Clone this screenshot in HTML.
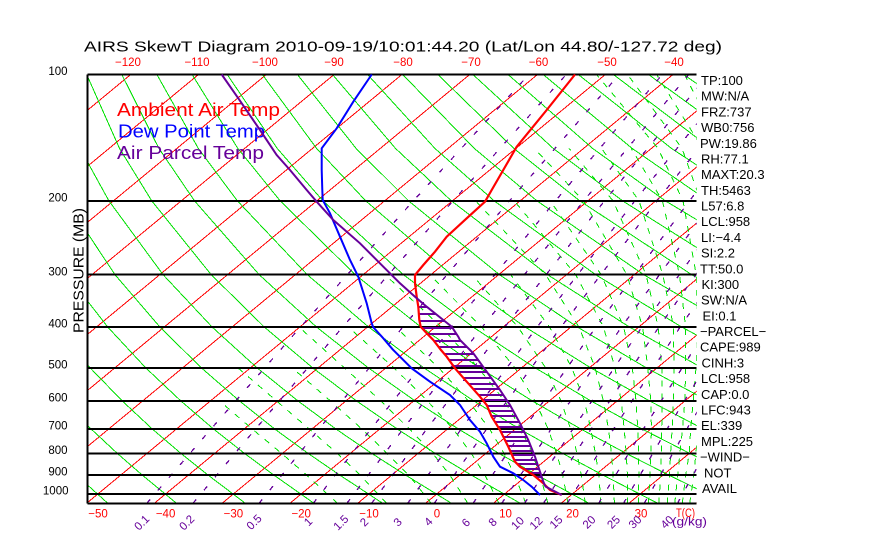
<!DOCTYPE html>
<html><head><meta charset="utf-8">
<style>
html,body{margin:0;padding:0;background:#fff;}
svg{display:block;}
text{font-family:"Liberation Sans",sans-serif;}
</style></head>
<body>
<svg width="870" height="560" viewBox="0 0 870 560" xmlns="http://www.w3.org/2000/svg">
<defs><clipPath id="c"><rect x="87.3" y="74.5" width="609.4" height="428.8"/></clipPath></defs>
<rect width="870" height="560" fill="#fff"/>
<g clip-path="url(#c)" fill="none" shape-rendering="crispEdges">
<!-- isotherms -->
<path stroke="#ff0000" stroke-width="1" d="M-862.5 503.3L-343.8 74.5M-794.7 503.3L-276.0 74.5M-726.9 503.3L-208.2 74.5M-659.1 503.3L-140.4 74.5M-591.4 503.3L-72.7 74.5M-523.6 503.3L-4.9 74.5M-455.8 503.3L62.9 74.5M-388.0 503.3L130.7 74.5M-320.2 503.3L198.5 74.5M-252.4 503.3L266.3 74.5M-184.6 503.3L334.1 74.5M-116.8 503.3L401.9 74.5M-49.0 503.3L469.7 74.5M18.8 503.3L537.5 74.5M86.6 503.3L605.3 74.5M154.3 503.3L673.0 74.5M222.1 503.3L740.8 74.5M289.9 503.3L808.6 74.5M357.7 503.3L876.4 74.5M425.5 503.3L944.2 74.5M493.3 503.3L1012.0 74.5M561.1 503.3L1079.8 74.5M628.9 503.3L1147.6 74.5M696.7 503.3L1215.4 74.5"/>
<!-- dry adiabats -->
<path stroke="#00e000" stroke-width="1" d="
M107.8 503.3L76.2 474.8L53.6 453.3
M176.5 503.3L141.9 474.8L117.2 453.3L91.1 429L63.6 400.9L34.4 367.7
M245.3 503.3L207.7 474.8L180.8 453.3L152.3 429L122.2 400.9L90.0 367.7L55.7 327.1
M314.0 503.3L273.5 474.8L244.4 453.3L213.5 429L180.8 400.9L145.6 367.7L107.8 327.1L67.0 274.7
M382.7 503.3L339.3 474.8L308.0 453.3L274.7 429L239.4 400.9L201.2 367.7L160.0 327.1L115.0 274.7L66.1 200.8
M451.5 503.3L405.1 474.8L371.6 453.3L335.9 429L297.9 400.9L256.9 367.7L212.2 327.1L163.1 274.7L108.9 200.8L80.0 148.4
M520.2 503.3L470.8 474.8L435.2 453.3L397.2 429L356.5 400.9L312.5 367.7L264.4 327.1L211.2 274.7L151.7 200.8L119.5 148.4L86.7 74.5
M589.0 503.3L536.6 474.8L498.8 453.3L458.4 429L415.1 400.9L368.1 367.7L316.6 327.1L259.2 274.7L194.5 200.8L158.9 148.4L121.8 74.5
M657.7 503.3L602.4 474.8L562.4 453.3L519.6 429L473.7 400.9L423.7 367.7L368.7 327.1L307.3 274.7L237.3 200.8L198.3 148.4L156.9 74.5
M726.4 503.3L668.2 474.8L626.0 453.3L580.8 429L532.3 400.9L479.3 367.7L420.9 327.1L355.3 274.7L280.1 200.8L237.8 148.4L192.1 74.5
M734.0 474.8L689.6 453.3L642.1 429L590.9 400.9L534.9 367.7L473.1 327.1L403.4 274.7L322.9 200.8L277.2 148.4L227.2 74.5
M753.2 453.3L703.3 429L649.5 400.9L590.5 367.7L525.3 327.1L451.5 274.7L365.7 200.8L316.6 148.4L262.3 74.5
M764.5 429L708.1 400.9L646.1 367.7L577.5 327.1L499.5 274.7L408.5 200.8L356.1 148.4L297.4 74.5
M766.7 400.9L701.7 367.7L629.6 327.1L547.6 274.7L451.3 200.8L395.5 148.4L332.5 74.5
M757.3 367.7L681.8 327.1L595.6 274.7L494.1 200.8L434.9 148.4L367.6 74.5
M734.0 327.1L643.7 274.7L536.9 200.8L474.3 148.4L402.7 74.5
M786.2 327.1L691.8 274.7L579.7 200.8L513.8 148.4L437.8 74.5
M739.8 274.7L622.5 200.8L553.2 148.4L472.9 74.5
M787.9 274.7L665.3 200.8L592.6 148.4L508.0 74.5
M835.9 274.7L708.1 200.8L632.1 148.4L543.2 74.5
M750.9 200.8L671.5 148.4L578.3 74.5
M793.7 200.8L710.9 148.4L613.4 74.5
M836.5 200.8L750.4 148.4L648.5 74.5
M879.3 200.8L789.8 148.4L683.6 74.5"/>
<!-- moist adiabats -->
<path stroke="#00e000" stroke-width="1" stroke-dasharray="6 7" d="
M337.4 503.3L306.3 474.8L281.5 453.3L252.2 429L219.5 400.9
M386.6 503.3L359.9 474.8L337.1 453.3L309.2 429L276.5 400.9L237.7 367.7
M431.2 503.3L408.5 474.8L387.0 453.3L361.9 429L330.4 400.9L292.0 367.7
M467.8 503.3L449.7 474.8L432.6 453.3L409.4 429L380.8 400.9L344.2 367.7L299.1 327.1
M498.9 503.3L484.8 474.8L471.2 453.3L453.2 429L427.4 400.9L393.8 367.7L348.3 327.1
M525.8 503.3L514.5 474.8L504.0 453.3L489.6 429L468.4 400.9L438.7 367.7L395.8 327.1
M547.9 503.3L540.0 474.8L532.0 453.3L521.1 429L504.6 400.9L478.1 367.7L441.3 327.1L385.0 274.7
M568.0 503.3L562.7 474.8L556.6 453.3L548.2 429L534.9 400.9L514.8 367.7L481.7 327.1L429.6 274.7
M585.3 503.3L581.2 474.8L577.0 453.3L570.6 429L561.0 400.9L545.6 367.7L518.0 327.1L471.9 274.7
M600.9 503.3L598.8 474.8L595.4 453.3L590.8 429L584.4 400.9L571.8 367.7L549.6 327.1L510.7 274.7
M614.4 503.3L613.1 474.8L611.5 453.3L608.5 429L603.3 400.9L595.1 367.7L579.0 327.1L545.6 274.7L475.6 200.8
M627.7 503.3L627.4 474.8L626.2 453.3L624.2 429L621.2 400.9L614.9 367.7L603.5 327.1L575.7 274.7L514.2 200.8
M638.3 503.3L638.9 474.8L638.5 453.3L637.8 429L636.0 400.9L632.3 367.7L623.7 327.1L601.2 274.7L550.2 200.8
M648.5 503.3L649.9 474.8L650.9 453.3L651.4 429L650.8 400.9L647.8 367.7L642.6 327.1L626.9 274.7L583.4 200.8L534.4 148.4
M658.7 503.3L660.9 474.8L661.3 453.3L661.7 429L662.1 400.9L661.9 367.7L658.2 327.1L646.1 274.7L613.0 200.8L569.1 148.4
M667.2 503.3L669.6 474.8L670.6 453.3L672.1 429L673.4 400.9L673.9 367.7L673.6 327.1L662.8 274.7L639.0 200.8L601.5 148.4
M674.8 503.3L677.7 474.8L679.9 453.3L682.5 429L684.8 400.9L685.7 367.7L685.6 327.1L679.5 274.7L662.4 200.8L631.2 148.4
M682.3 503.3L685.8 474.8L689.2 453.3L690.7 429L693.2 400.9L696.0 367.7L697.6 327.1L696.2 274.7L683.0 200.8L658.0 148.4L596.5 74.5
M689.7 503.3L693.9 474.8L695.9 453.3L698.3 429L701.5 400.9L704.8 367.7L708.7 327.1L709.4 274.7L700.7 200.8L682.0 148.4L627.6 74.5
M697.3 503.3L702 474.8L702.7 453.3L706 429L709.8 400.9L713.7 367.7L717.6 327.1L720.7 274.7L717 200.8L702.5 148.4L656.6 74.5
M731.2 200.8L721.9 148.4L684.6 74.5"/>
<!-- mixing ratio lines -->
<path stroke="#66009a" stroke-width="1.3" stroke-dasharray="5 12" d="
M146.8 503.3L211.0 429L300.4 327.1L413.4 200.8L528.9 74.5
M193.0 503.3L255.5 429L342.6 327.1L453.1 200.8L566.2 74.5
M259.1 503.3L319.0 429L402.8 327.1L509.5 200.8L619.2 74.5
M313.3 503.3L371.0 429L451.9 327.1L555.5 200.8L662.3 74.5
M346.9 503.3L403.1 429L482.3 327.1L583.8 200.8L688.8 74.5
M371.6 503.3L426.8 429L504.6 327.1L604.6 200.8L708.2 74.5
M407.7 503.3L461.3 429L537.1 327.1L634.9 200.8L736.4 74.5
M434.3 503.3L486.7 429L561.0 327.1L657.1 200.8L757.2 74.5
M473.1 503.3L523.8 429L595.9 327.1L689.5 200.8L787.3 74.5
M501.8 503.3L551.1 429L621.5 327.1L713.2 200.8
M524.5 503.3L572.9 429L641.9 327.1L732.1 200.8
M543.5 503.3L591.0 429L658.9 327.1L747.8 200.8
M567.3 503.3L613.6 429L680.1 327.1L767.4 200.8
M598.6 503.3L643.4 429L708.0 327.1
M623.5 503.3L667.1 429L730.1 327.1
M644.2 503.3L686.8 429L748.5 327.1
M677.5 503.3L718.3 429"/>
</g>
<!-- pressure lines -->
<g stroke="#000" stroke-width="2" shape-rendering="crispEdges">
  <line x1="87.3" y1="74.5" x2="696.7" y2="74.5"/>
  <line x1="87.3" y1="200.8" x2="696.7" y2="200.8"/>
  <line x1="87.3" y1="274.7" x2="696.7" y2="274.7"/>
  <line x1="87.3" y1="327.1" x2="696.7" y2="327.1"/>
  <line x1="87.3" y1="367.9" x2="696.7" y2="367.9"/>
  <line x1="87.3" y1="401.0" x2="696.7" y2="401.0"/>
  <line x1="87.3" y1="429.1" x2="696.7" y2="429.1"/>
  <line x1="87.3" y1="453.3" x2="696.7" y2="453.3"/>
  <line x1="87.3" y1="474.9" x2="696.7" y2="474.9"/>
  <line x1="87.3" y1="494.0" x2="696.7" y2="494.0"/>
  <line x1="87.3" y1="503.3" x2="696.7" y2="503.3"/>
  <line x1="87.3" y1="74.5" x2="87.3" y2="503.3"/>
</g>
<!-- legend -->
<text x="117" y="116" font-size="18" fill="#ff0000" textLength="163" lengthAdjust="spacingAndGlyphs">Ambient Air Temp</text>
<text x="118" y="137.5" font-size="18" fill="#0000ff" textLength="147" lengthAdjust="spacingAndGlyphs">Dew Point Temp</text>
<text x="117" y="159" font-size="18" fill="#66009a" textLength="147" lengthAdjust="spacingAndGlyphs">Air Parcel Temp</text>
<!-- hatch -->
<path fill="none" stroke="#66009a" stroke-width="1.6" shape-rendering="crispEdges" d="
M418.3 307H427.1M418.9 314H435.8M419.5 321H444.6M421.9 328H452.6M427.4 334H456.5M434.1 341H461.0M438.7 347H467.0M444.4 354H473.8M449.1 360H478.2M453.4 366H482.5M458.2 372H486.9M463.5 378H491.3M468.7 384H495.6M473.2 389H499.3M478.5 395H503.3M482.7 400H506.7M487.1 406H510.5M489.3 411H513.3M491.4 416H516.0M495.0 422H519.3M498.1 427H521.8M501.0 432H524.3M503.5 437H526.8M505.5 441H528.7M508.0 446H530.7M510.2 451H532.7M512.0 455H534.3M514.2 460H536.1M517.3 464H537.4M523.7 469H539.1M530.1 473H540.4M535.7 477H541.7M540.5 481H543.1"/>
<!-- profiles -->
<polyline fill="none" stroke="#ff0000" stroke-width="2.2" points="575,74.5 546.7,110 516.7,146.7 505,167 491.7,190 485,201.7 466.7,218.3 446.7,236.7 435,251.7 423.3,265 415,275 415,283.3 416.7,296.7 418.3,306.7 419.3,320 420.7,326.7 426.7,333.3 433.3,340 441,350 446.7,356.7 455,368.3 466.7,381.7 480,396.7 486.7,405 491.7,416.7 500,430 508.3,446.7 515,461.7 520,466.7 533.3,475 543.3,483.3 550,490 561.7,495"/>
<polyline fill="none" stroke="#0000ff" stroke-width="2" points="371.7,74.5 353.3,101.7 336.7,128.3 321.7,148.3 321.7,170 322.3,190 322.7,200 330,213.3 340,236.7 350,260 358.3,276.7 366.7,303.3 371.7,323.3 373.3,327.3 383.3,338.3 392.6,349.3 400,356.7 411.7,368.3 430,381.7 450,395 460,405 470,420 480,431.7 486.7,443.3 493.3,456.7 500,466.7 513.3,473.3 523.3,480 531.7,486.7 540,495"/>
<polyline fill="none" stroke="#66009a" stroke-width="2" points="221.7,74.5 238.3,98.3 260,130 276.7,155 290,170 306.7,190 316.7,201.7 333.3,220 360,243.3 383.3,266.7 400,283.3 415,296.7 426.7,306.7 443.3,320 451.7,326.7 458.3,336.7 460,340 473.3,353.3 486.7,371.7 500,390 510,405 520,423.3 528.3,440 535,456.7 540,471.7 543.3,481.7 545.5,486.5 561.7,495"/>
<!-- title -->
<text x="84" y="51.5" font-size="15" fill="#000" textLength="638" lengthAdjust="spacingAndGlyphs">AIRS SkewT Diagram 2010-09-19/10:01:44.20 (Lat/Lon 44.80/-127.72 deg)</text>
<!-- top labels -->
<g font-size="11.5" fill="#ff0000" text-anchor="middle">
  <text x="128" y="66">−120</text>
  <text x="197" y="66">−110</text>
  <text x="265" y="66">−100</text>
  <text x="334" y="66">−90</text>
  <text x="403" y="66">−80</text>
  <text x="471" y="66">−70</text>
  <text x="538.5" y="66">−60</text>
  <text x="607" y="66">−50</text>
  <text x="674" y="66">−40</text>
</g>
<!-- bottom T labels -->
<g font-size="11.5" fill="#ff0000" text-anchor="middle">
  <text x="98" y="517.5">−50</text>
  <text x="165.6" y="517.5">−40</text>
  <text x="233.4" y="517.5">−30</text>
  <text x="301.2" y="517.5">−20</text>
  <text x="369" y="517.5">−10</text>
  <text x="437" y="517.5">0</text>
  <text x="505.5" y="517.5">10</text>
  <text x="572.5" y="517.5">20</text>
  <text x="641" y="517.5">30</text>
</g>
<text x="676" y="517" font-size="11.5" fill="#ff0000" textLength="19" lengthAdjust="spacingAndGlyphs">T(C)</text>
<!-- left labels -->
<g font-size="11.5" fill="#000" text-anchor="end">
  <text x="67.5" y="75">100</text>
  <text x="67.5" y="201.5">200</text>
  <text x="67.5" y="275.3">300</text>
  <text x="67.5" y="327.6">400</text>
  <text x="67.5" y="368.5">500</text>
  <text x="67.5" y="401.5">600</text>
  <text x="67.5" y="429.6">700</text>
  <text x="67.5" y="453.8">800</text>
  <text x="67.5" y="475.4">900</text>
  <text x="68.5" y="494.5">1000</text>
</g>
<text transform="translate(83.5,270.5) rotate(-90)" text-anchor="middle" font-size="14.5" fill="#000" textLength="125" lengthAdjust="spacingAndGlyphs">PRESSURE (MB)</text>
<!-- mixing ratio labels -->
<g font-size="11.5" fill="#66009a" text-anchor="middle">
  <text transform="translate(141.7,522.5) rotate(-45)" dy="4">0.1</text>
  <text transform="translate(186.7,522.5) rotate(-45)" dy="4">0.2</text>
  <text transform="translate(254,522) rotate(-45)" dy="4">0.5</text>
  <text transform="translate(308,521.7) rotate(-45)" dy="4">1</text>
  <text transform="translate(340.8,522.5) rotate(-45)" dy="4">1.5</text>
  <text transform="translate(364,522) rotate(-45)" dy="4">2</text>
  <text transform="translate(397.5,522) rotate(-45)" dy="4">3</text>
  <text transform="translate(428.3,521.7) rotate(-45)" dy="4">4</text>
  <text transform="translate(465.8,522.5) rotate(-45)" dy="4">6</text>
  <text transform="translate(492.5,522) rotate(-45)" dy="4">8</text>
  <text transform="translate(517.5,523) rotate(-45)" dy="4">10</text>
  <text transform="translate(536,523) rotate(-45)" dy="4">12</text>
  <text transform="translate(556,522) rotate(-45)" dy="4">15</text>
  <text transform="translate(589,522) rotate(-45)" dy="4">20</text>
  <text transform="translate(613.5,522) rotate(-45)" dy="4">25</text>
  <text transform="translate(635,522) rotate(-45)" dy="4">30</text>
  <text transform="translate(667,522) rotate(-45)" dy="4">40</text>
</g>
<text x="672" y="525.5" font-size="12" fill="#66009a" textLength="35" lengthAdjust="spacingAndGlyphs">(g/kg)</text>
<!-- right stats -->
<g font-size="13" fill="#000">
  <text x="701" y="85">TP:100</text>
  <text x="701" y="100.7">MW:N/A</text>
  <text x="701" y="116.4">FRZ:737</text>
  <text x="701" y="132.1">WB0:756</text>
  <text x="700" y="147.8">PW:19.86</text>
  <text x="701" y="163.4">RH:77.1</text>
  <text x="701" y="179.1">MAXT:20.3</text>
  <text x="701" y="194.8">TH:5463</text>
  <text x="701" y="210.5">L57:6.8</text>
  <text x="701" y="226.2">LCL:958</text>
  <text x="701" y="241.9">LI:−4.4</text>
  <text x="701" y="257.6">SI:2.2</text>
  <text x="700" y="273.3">TT:50.0</text>
  <text x="701.5" y="289">KI:300</text>
  <text x="701" y="304.7">SW:N/A</text>
  <text x="702.5" y="320.4">EI:0.1</text>
  <text x="700" y="336">−PARCEL−</text>
  <text x="700" y="351.7">CAPE:989</text>
  <text x="701.5" y="367.4">CINH:3</text>
  <text x="701" y="383.1">LCL:958</text>
  <text x="701" y="398.8">CAP:0.0</text>
  <text x="701" y="414.5">LFC:943</text>
  <text x="701" y="430.2">EL:339</text>
  <text x="701" y="445.9">MPL:225</text>
  <text x="700" y="461.6">−WIND−</text>
  <text x="704" y="477.3">NOT</text>
  <text x="702" y="493">AVAIL</text>
</g>
</svg>
</body></html>
